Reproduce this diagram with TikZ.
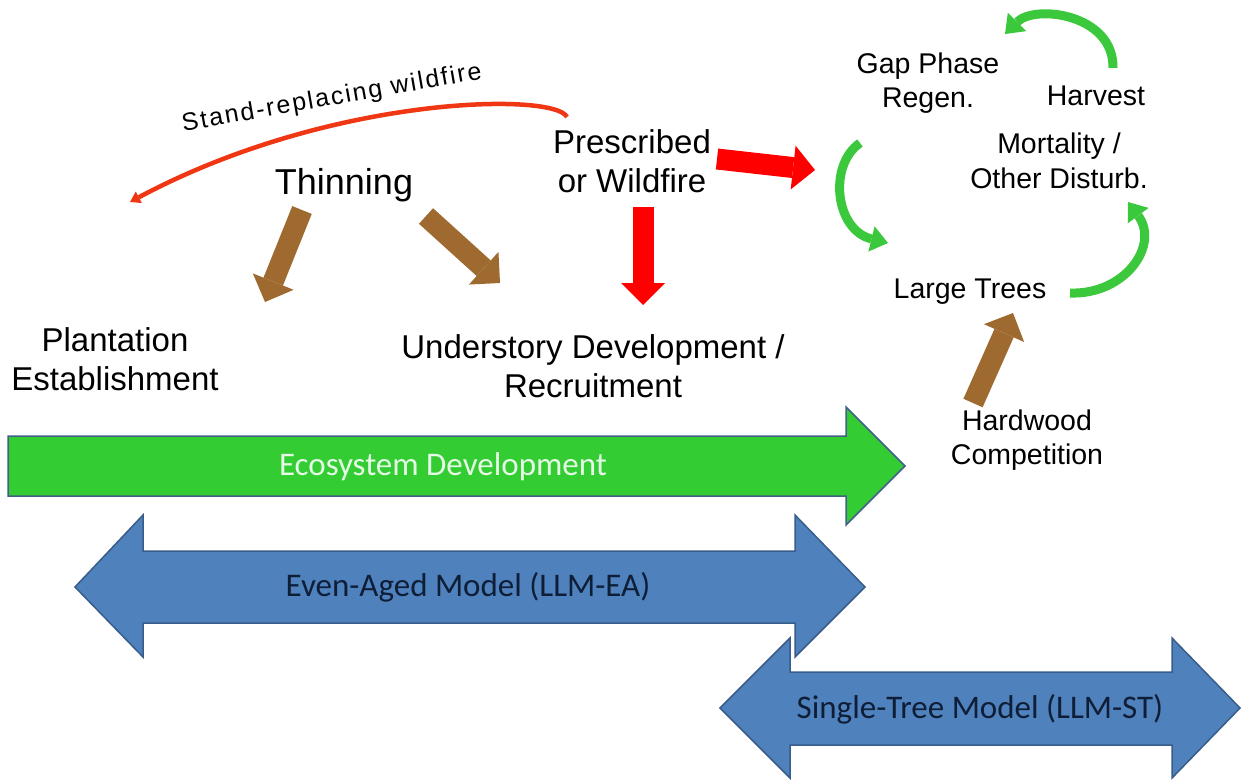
\documentclass[tikz,border=0pt]{standalone}
\usepackage{fontspec}
\setmainfont{Liberation Sans}
\newfontfamily\calibfont{Carlito}
\newfontfamily\spacedfont[LetterSpace=8]{Liberation Sans}
\usetikzlibrary{arrows.meta}

\definecolor{fireRed}{RGB}{255,0,0}
\definecolor{arcRed}{RGB}{240,55,20}
\definecolor{brownA}{RGB}{158,106,48}
\definecolor{cycGreen}{RGB}{60,200,60}
\definecolor{ecoGreen}{RGB}{51,204,51}
\definecolor{ecoBorder}{RGB}{65,95,135}
\definecolor{ecoText}{RGB}{228,250,228}
\definecolor{modBlue}{RGB}{79,129,189}
\definecolor{modBorder}{RGB}{56,93,138}
\definecolor{modText}{RGB}{15,30,55}

\begin{document}
\begin{tikzpicture}[x=1pt,y=-1pt,
  lbl/.style={inner sep=0pt, align=center, text=black},
  biglbl/.style={lbl, font=\fontsize{33}{38.5}\selectfont},
  cyclbl/.style={lbl, font=\fontsize{28.5}{34.5}\selectfont},
  blockarrow/.style={line width=21pt, -{Triangle[length=22pt,width=44pt,line width=0pt]}},
  brownarrow/.style={blockarrow, draw=brownA},
  redarrow/.style={blockarrow, draw=fireRed},
  cycarrow/.style={draw=cycGreen, line width=9pt, -{Triangle[length=17pt,width=26pt,line width=0pt]}},
  ecoshape/.style={fill=ecoGreen, draw=ecoBorder, line width=1.5pt, line join=miter},
  modshape/.style={fill=modBlue, draw=modBorder, line width=1.5pt, line join=miter},
  ecotext/.style={inner sep=0pt, text=ecoText, font=\calibfont\fontsize{33}{33}\selectfont},
  modtext/.style={inner sep=0pt, text=modText, font=\calibfont\fontsize{33}{33}\selectfont}
]
\useasboundingbox (0,0) rectangle (1241,780);

% ---- text labels
\node[lbl, font=\fontsize{36}{36}\selectfont] (thin) at (344,185) {Thinning};
\node[biglbl] (presc) at (632,161) {Prescribed\\or Wildfire};
\node[biglbl] (plant) at (115,359) {Plantation\\Establishment};
\node[biglbl] (under) at (593,366) {Understory Development /\\Recruitment};
\node[cyclbl] (gap) at (928,83) {Gap Phase\\Regen.};
\node[cyclbl] (harv) at (1096,96) {Harvest};
\node[cyclbl] (mort) at (1059,161) {Mortality /\\Other Disturb.};
\node[cyclbl] (large) at (970,292) {Large Trees};
\node[cyclbl] (hard) at (1027,440) {Hardwood\\Competition};
\node[inner sep=0pt, anchor=base, rotate=10, font=\spacedfont\fontsize{25}{25}\selectfont]
  (srw) at (333,105) {Stand-replacing wildfire};

% ---- block arrows (endpoints)
\coordinate (b1s) at (302,210); \coordinate (b1e) at (265,302);
\coordinate (b2s) at (426,216); \coordinate (b2e) at (500,283);
\coordinate (b3s) at (973,403); \coordinate (b3e) at (1013,313);
\coordinate (r1s) at (717,159); \coordinate (r1e) at (815,170);
\coordinate (r2s) at (643,207); \coordinate (r2e) at (643,305);
\draw[brownarrow] (b1s) -- (b1e);
\draw[brownarrow] (b2s) -- (b2e);
\draw[brownarrow] (b3s) -- (b3e);
\draw[redarrow] (r1s) -- (r1e);
\draw[redarrow] (r2s) -- (r2e);

% ---- stand-replacing wildfire arc
\coordinate (arcs) at (567,117);
\coordinate (arce) at (130,202);
\draw[arcRed, line width=4.5pt, -{Triangle[length=10pt,width=13pt,line width=0pt]}]
  (arcs) .. controls (555,92) and (330,95) .. (arce);

% ---- cycle arrows
\coordinate (c1s) at (1113,68); \coordinate (c1e) at (1005,34);
\coordinate (c2s) at (860,143); \coordinate (c2e) at (888,243);
\coordinate (c3s) at (1070,293); \coordinate (c3e) at (1128,202);
\draw[cycarrow] (c1s) .. controls (1114,14) and (1035,4) .. (c1e);
\draw[cycarrow] (c2s) .. controls (828,165) and (835,230) .. (c2e);
\draw[cycarrow] (c3s) .. controls (1125,295) and (1160,245) .. (c3e);

% ---- ecosystem development arrow
\draw[ecoshape] (8,436) -- (846,436) -- (846,407) -- (905,466) -- (846,525)
  -- (846,496) -- (8,496) -- cycle;
\node[ecotext] (eco) at (443,467) {Ecosystem Development};

% ---- single-tree model arrow
\draw[modshape] (720,708) -- (790,638) -- (790,672) -- (1172,672) -- (1172,638)
  -- (1240,708) -- (1172,778) -- (1172,745) -- (790,745) -- (790,778) -- cycle;
\node[modtext] (st) at (980,709) {Single-Tree Model (LLM-ST)};

% ---- even-aged model arrow
\draw[modshape] (75,587) -- (143,515) -- (143,551) -- (795,551) -- (795,515)
  -- (865,587) -- (795,657) -- (795,623) -- (143,623) -- (143,657) -- cycle;
\node[modtext] (ea) at (468,587) {Even-Aged Model (LLM-EA)};
\end{tikzpicture}
\end{document}
